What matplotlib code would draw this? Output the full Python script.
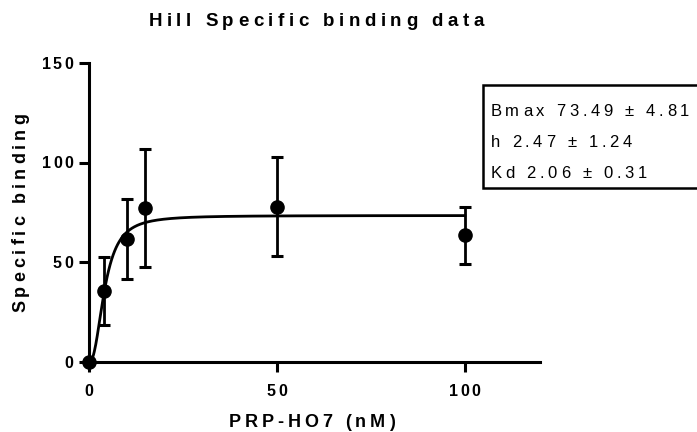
import matplotlib
matplotlib.use('Agg')
import matplotlib.pyplot as plt
import numpy as np
from matplotlib.font_manager import FontProperties, findfont
from matplotlib.ft2font import FT2Font
from matplotlib.patches import Rectangle

# data
conc = [0, 4, 10, 15, 50, 100]
binding = [0, 35.8, 61.7, 77.3, 78.0, 63.5]
sem = [0, 17.0, 20.0, 29.5, 25.0, 14.5]

# fitted Hill curve as drawn
bmax = 73.49
hill = 2.35
half = 4.2

xticks = [0, 50, 100]
yticks = [0, 50, 100, 150]
title = 'Hill Specific binding data'
xlabel = 'PRP-HO7 (nM)'
ylabel = 'Specific binding'
box_lines = ['Bmax 73.49 \u00b1 4.81', 'h 2.47 \u00b1 1.24', 'Kd 2.06 \u00b1 0.31']

W, H, DPI = 697, 432, 100
FONT = 'Liberation Sans'

fig = plt.figure(figsize=(W / DPI, H / DPI), dpi=DPI)
ax = fig.add_axes([89 / W, 70 / H, 451 / W, 299 / H])


def advances(s, size, weight):
    font = FT2Font(findfont(FontProperties(family=FONT, weight=weight)))
    font.set_size(size, DPI)
    return [font.load_char(ord(c)).linearHoriAdvance / 65536 for c in s]


# text with letter spacing (x, y in pixels from bottom-left)
def spaced(x, y, s, size, track, weight='normal', ha='center', vertical=False):
    adv = advances(s, size, weight)
    total = sum(adv) + track * (len(s) - 1)
    pos = {'left': 0, 'center': -total / 2, 'right': -total}[ha]
    for c, a in zip(s, adv):
        mid = pos + a / 2
        if c != ' ':
            if vertical:
                fig.text(x / W, (y + mid) / H, c, rotation=90, rotation_mode='anchor',
                         ha='center', va='baseline', fontsize=size, fontweight=weight,
                         family=FONT)
            else:
                fig.text((x + mid) / W, y / H, c, ha='center', va='baseline',
                         fontsize=size, fontweight=weight, family=FONT)
        pos += a + track


xs = np.linspace(0, 100, 500)
ax.plot(xs, bmax * xs ** hill / (half ** hill + xs ** hill), color='black', lw=2, zorder=2)

eb = ax.errorbar(conc, binding, yerr=sem, fmt='o', color='black', ms=9.5,
                 elinewidth=2, capsize=4.6, capthick=2.2, zorder=3)
for art in eb.lines[0:1] + tuple(eb.lines[1]) + tuple(eb.lines[2]):
    art.set_clip_on(False)

ax.set_xlim(0, 120)
ax.set_ylim(0, 150)
ax.set_xticks(xticks)
ax.set_yticks(yticks)
for side in ['top', 'right']:
    ax.spines[side].set_visible(False)
for side in ['left', 'bottom']:
    ax.spines[side].set_linewidth(2.2)
ax.tick_params(direction='out', length=7, width=2.2, labelleft=False, labelbottom=False)

fig.canvas.draw()
for v in yticks:
    px, py = ax.transData.transform((0, v))
    spaced(73, py - 5.8, str(v), 11.5, 2.3, 'bold', ha='right')
for v in xticks:
    px, py = ax.transData.transform((v, 0))
    spaced(px, py - 34, str(v), 11.5, 2.3, 'bold')

spaced(316, 406, title, 13.5, 4.5, 'bold')
spaced(312, 5, xlabel, 13, 3.9, 'bold')
spaced(25, 219.5, ylabel, 13, 4.0, 'bold', vertical=True)

fig.add_artist(Rectangle((483 / W, 244 / H), 230 / W, 103 / H, transform=fig.transFigure,
                         facecolor='white', edgecolor='black', lw=1.8, clip_on=False))
for i, line in enumerate(box_lines):
    spaced(490.5, 316 - 31 * i, line, 12, 3.7, ha='left')

fig.savefig('out.png', dpi=DPI)
